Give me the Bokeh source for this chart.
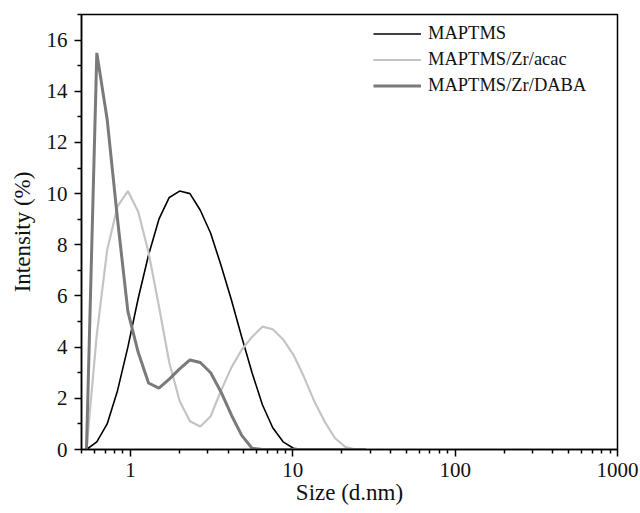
from bokeh.plotting import figure
from bokeh.models import (FixedTicker, BasicTickFormatter, Legend, LegendItem,
                          Range1d, ColumnDataSource)
from bokeh.embed import file_html
from bokeh.resources import INLINE

# Size bins (d.nm)
size_bins = [0.5365, 0.6213, 0.7195, 0.8332, 0.9649, 1.117, 1.294, 1.499, 1.736,
             2.010, 2.328, 2.696, 3.122, 3.615, 4.187, 4.849, 5.615, 6.503, 7.531,
             8.721, 10.10, 11.70, 13.54, 15.69, 18.17, 21.04, 24.36, 28.21]

maptms = [0, 0.3, 1.0, 2.3, 4.0, 5.9, 7.6, 9.0, 9.85, 10.1, 10.0, 9.35, 8.45, 7.2,
          5.85, 4.4, 3.0, 1.75, 0.85, 0.3, 0.05, 0, 0, 0, 0, 0, 0, 0]
maptms_acac = [0, 4.5, 7.8, 9.5, 10.1, 9.3, 7.7, 5.6, 3.4, 1.9, 1.1, 0.9, 1.3, 2.3,
               3.2, 3.9, 4.4, 4.8, 4.7, 4.3, 3.7, 2.85, 1.9, 1.1, 0.45, 0.1, 0, 0]
maptms_daba = [0, 15.5, 12.9, 9.0, 5.4, 3.8, 2.6, 2.4, 2.75, 3.15, 3.5, 3.4, 3.0,
               2.25, 1.35, 0.55, 0.05, 0, 0, 0, 0, 0, 0, 0, 0, 0, 0, 0]

series_names = ["MAPTMS", "MAPTMS/Zr/acac", "MAPTMS/Zr/DABA"]
x_major = [1, 10, 100, 1000]
y_major = [0, 2, 4, 6, 8, 10, 12, 14, 16]

FONT = "Liberation Serif"

p = figure(frame_width=536, frame_height=435, x_axis_type="log", output_backend="svg",
           toolbar_location=None, x_range=Range1d(0.5, 1000), y_range=Range1d(0, 17),
           min_border_left=81, min_border_right=23, min_border_top=14,
           min_border_bottom=64)
p.background_fill_color = "white"
p.border_fill_color = "white"
p.grid.visible = False
p.outline_line_color = "black"
p.outline_line_width = 1.5

src = ColumnDataSource(dict(x=size_bins, a=maptms, b=maptms_acac, c=maptms_daba))
r1 = p.line("x", "a", source=src, line_color="#000000", line_width=1.6)
r2 = p.line("x", "b", source=src, line_color="#c4c4c4", line_width=2.2)
r3 = p.line("x", "c", source=src, line_color="#7a7a7a", line_width=3.0)

p.xaxis.ticker = FixedTicker(ticks=x_major,
                             minor_ticks=[m * 10 ** e for e in range(-1, 3) for m in range(2, 10)])
p.xaxis.formatter = BasicTickFormatter(use_scientific=False)
p.yaxis.ticker = FixedTicker(ticks=y_major, minor_ticks=list(range(1, 18, 2)))

for ax in (p.xaxis, p.yaxis):
    ax.axis_line_width = 1.5
    ax.axis_line_color = "black"
    ax.major_tick_line_width = 1.5
    ax.minor_tick_line_width = 1.5
    ax.major_tick_in = 0
    ax.major_tick_out = 7
    ax.minor_tick_in = 0
    ax.minor_tick_out = 4
    ax.major_label_text_font = FONT
    ax.major_label_text_font_size = "21px"
    ax.major_label_text_color = "#111111"
    ax.axis_label_text_font = FONT
    ax.axis_label_text_font_size = "23px"
    ax.axis_label_text_font_style = "normal"
    ax.axis_label_text_color = "#111111"

p.xaxis.axis_label = "Size (d.nm)"
p.yaxis.axis_label = "Intensity (%)"
p.xaxis.major_label_standoff = 6
p.xaxis.axis_label_standoff = 0
p.yaxis.major_label_standoff = 7
p.yaxis.axis_label_standoff = 9

legend = Legend(items=[LegendItem(label=series_names[0], renderers=[r1]),
                       LegendItem(label=series_names[1], renderers=[r2]),
                       LegendItem(label=series_names[2], renderers=[r3])],
                location=(292, 352), border_line_color=None,
                background_fill_alpha=0, padding=0, margin=0,
                glyph_width=48, glyph_height=23, spacing=3, label_standoff=7,
                label_text_font=FONT, label_text_font_size="18.5px",
                label_text_color="#111111")
p.add_layout(legend)

open("out.html", "w").write(file_html(p, INLINE))
